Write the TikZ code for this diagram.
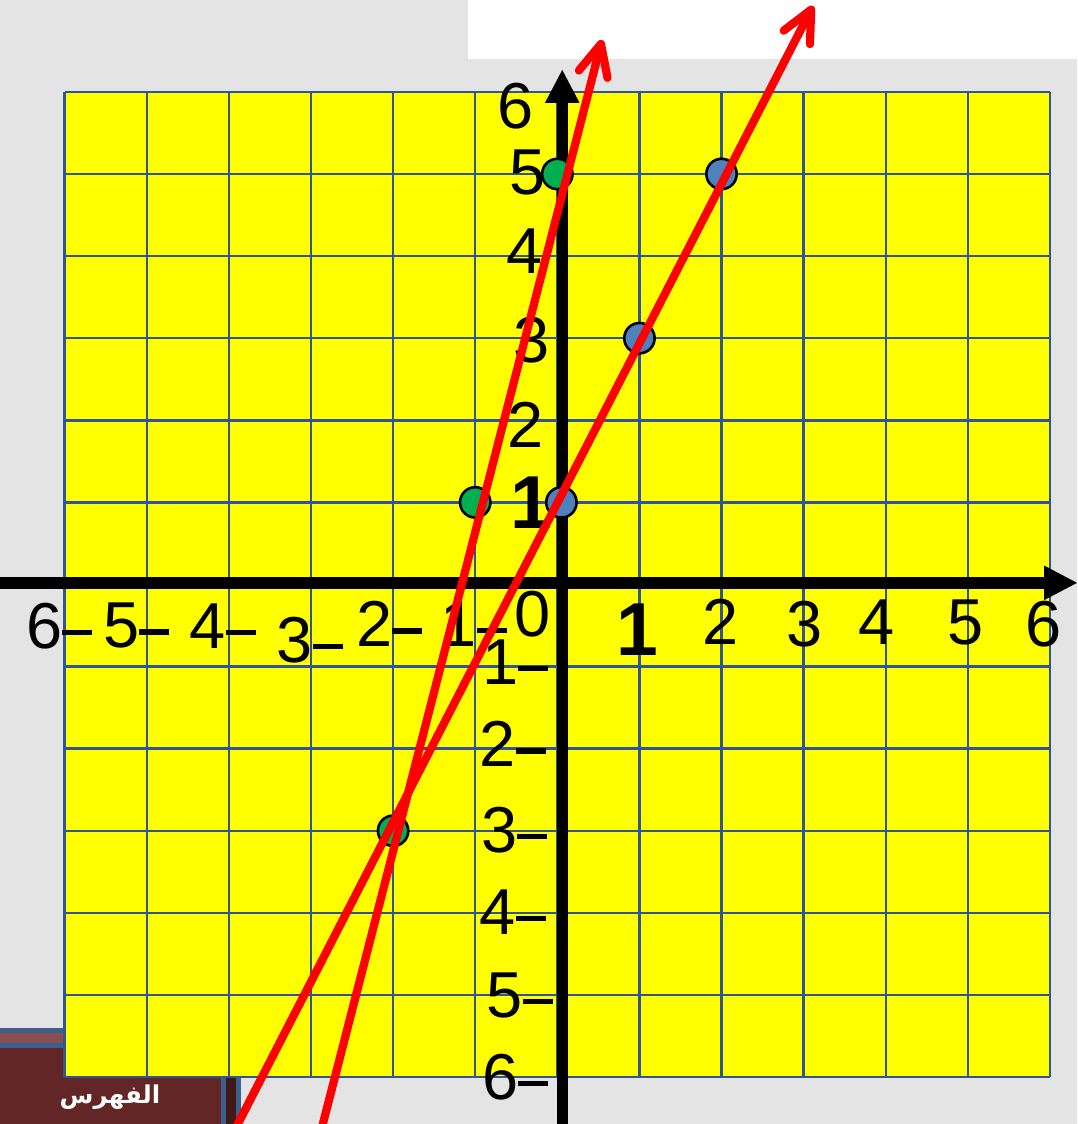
\documentclass[tikz,border=0pt]{standalone}
\usepackage{fontspec}
\setmainfont{Liberation Sans}
\newfontfamily\arabicfont[Script=Arabic]{DejaVu Sans}
\TeXXeTstate=1
\usetikzlibrary{arrows.meta}
\definecolor{cPaper}{HTML}{E4E4E4}
\definecolor{cSheet}{HTML}{FFFF00}
\definecolor{cGrid}{HTML}{2F5597}
\definecolor{cGreen}{HTML}{00B050}
\definecolor{cBlue}{HTML}{4F81BD}
\definecolor{cMaroon}{HTML}{632626}
\definecolor{cMaroonDk}{HTML}{3F1818}
\definecolor{cMaroonLt}{HTML}{8A4E4E}
\definecolor{cEdge}{HTML}{3C5F8E}
% minus sign written after the digit
\newcommand{\ngd}{\rule[0.2em]{0.46em}{0.085em}}

\begin{document}
\begin{tikzpicture}[
  lab/.style={inner sep=0pt,font=\fontsize{22.5}{26}\selectfont},
  labb/.style={inner sep=0pt,font=\fontsize{26}{30}\selectfont\bfseries},
  ax/.style={line width=0.14cm,
             -{Triangle[length=0.4cm,width=0.42cm,line width=0pt]}},
  ln/.style={red,line width=0.1cm,
             -{Straight Barb[length=0.38cm,width=0.36cm,round]}},
  pt/.style={circle,draw=black,line width=0.9pt,minimum size=0.37cm,
             inner sep=0pt},
  ]
  % page
  \useasboundingbox (-6.788,-6.571) rectangle (6.330,7.119);
  \fill[cPaper] (-6.788,-6.571) rectangle (6.330,7.119);
  \fill[white] (-1.088,6.40) rectangle (6.330,7.119);

  % index button, bottom left
  \fill[cEdge] (-6.788,-6.571) rectangle (-3.852,-5.402);
  \fill[cMaroonLt] (-6.788,-5.590) rectangle (-3.852,-5.463);
  \fill[cMaroon] (-6.788,-6.571) rectangle (-4.096,-5.645);
  \fill[cMaroonDk] (-4.035,-6.571) rectangle (-3.913,-5.645);
  \node[text=white,font=\arabicfont\bfseries\fontsize{8.5}{10}\selectfont]
    (idx) at (-5.448,-6.25) {\beginR الفهرس\endR};

  % grid
  \fill[cSheet] (-6,-6) rectangle (6,6);
  \draw[cGrid,line width=0.03cm] (-6,-6) grid (6,6);

  % axes
  \coordinate (xl) at (-6.788,0.02);
  \coordinate (xr) at (6.33,0.02);
  \coordinate (yb) at (0.06,-6.571);
  \coordinate (yt) at (0.06,6.267);
  \draw[ax] (xl) -- (xr);
  \draw[ax] (yb) -- (yt);

  % x labels
  \node[lab] (xm6) at (-6.066,-0.505) {6\ngd};
  \node[lab] (xm5) at (-5.128,-0.505) {5\ngd};
  \node[lab] (xm4) at (-4.072,-0.505) {4\ngd};
  \node[lab] (xm3) at (-3.016,-0.676) {3\ngd};
  \node[lab] (xm2) at (-2.050,-0.481) {2\ngd};
  \node[lab] (xm1) at (-1.015,-0.481) {1\ngd};
  \node[lab] (zero) at (-0.296,-0.359) {0};
  \node[labb] (xp1) at (0.971,-0.554) {1};
  \node[lab] (xp2) at (1.982,-0.457) {2};
  \node[lab] (xp3) at (3.017,-0.481) {3};
  \node[lab] (xp4) at (3.894,-0.457) {4};
  \node[lab] (xp5) at (4.978,-0.457) {5};
  \node[lab] (xp6) at (5.916,-0.481) {6};

  % y labels
  \node[lab] (yp6) at (-0.503,5.828) {6};
  \node[lab] (yp5) at (-0.357,5.024) {5};
  \node[lab] (yp4) at (-0.393,4.062) {4};
  \node[lab] (yp3) at (-0.308,2.978) {3};
  \node[lab] (yp2) at (-0.381,1.943) {2};
  \node[labb] (yp1) at (-0.320,0.993) {1};
  \node[lab] (ym1) at (-0.515,-0.944) {1\ngd};
  \node[lab] (ym2) at (-0.540,-1.943) {2\ngd};
  \node[lab] (ym3) at (-0.527,-2.990) {3\ngd};
  \node[lab] (ym4) at (-0.540,-3.989) {4\ngd};
  \node[lab] (ym5) at (-0.455,-5.000) {5\ngd};
  \node[lab] (ym6) at (-0.515,-5.999) {6\ngd};

  % points
  \node[pt,fill=cGreen] (g1) at (0,5) {};
  \node[pt,fill=cGreen] (g2) at (-1,1) {};
  \node[pt,fill=cGreen] (g3) at (-2,-3) {};
  \node[pt,fill=cBlue] (b1) at (0.05,1) {};
  \node[pt,fill=cBlue] (b2) at (1,3) {};
  \node[pt,fill=cBlue] (b3) at (2,5) {};

  % lines
  \coordinate (aS) at (-2.915,-6.8);
  \coordinate (aE) at (0.544,6.632);
  \coordinate (bS) at (-4.009,-6.8);
  \coordinate (bE) at (3.114,7.046);
  \draw[ln] (aS) -- (aE);
  \draw[ln] (bS) -- (bE);
\end{tikzpicture}
\end{document}
